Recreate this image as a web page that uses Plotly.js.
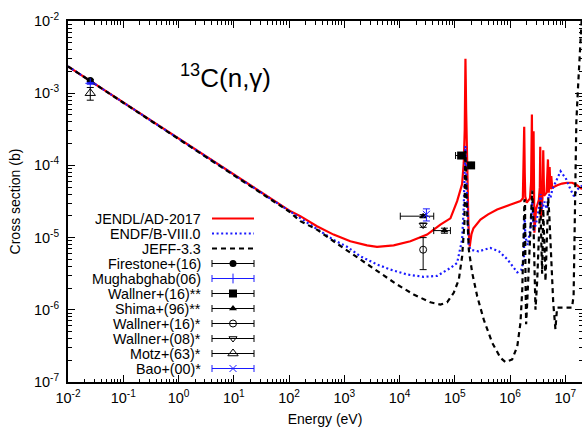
<!DOCTYPE html>
<html><head><meta charset="utf-8">
<script src="https://cdn.plot.ly/plotly-3.0.1.min.js"></script>
<style>html,body{margin:0;padding:0;background:#fff}#chart{width:582px;height:427px}</style>
</head><body><div id="chart"></div>
<script>
// ---------------- evaluated cross sections (E in eV, sigma in b) ----------------
const jendlE = [0.01, 0.1, 1, 10, 100, 160, 320, 640, 1285, 2576, 3908, 7816, 15700, 31500, 54800, 83200,
  110000, 135500, 145000, 151000, 153500, 155600, 157500, 160000, 165000, 170000, 176000, 182000, 186000, 192000,
  200000, 217000, 291000, 400000, 583000, 1000000, 1540000, 1700000, 1760000, 1800000, 1840000, 1880000, 2000000,
  2290000, 2400000, 2480000, 2530000, 2590000, 2660000, 2700000, 2750000, 2950000, 3310000, 3450000, 3510000,
  3570000, 3630000, 3850000, 3980000, 4120000, 4570000, 4840000, 5010000, 5190000, 5370000, 5560000, 5780000,
  7130000, 8700000, 1.07e7, 1.33e7, 1.58e7, 1.88e7, 2.0e7];
const jendlXS = [2.35e-3, 7.43e-4, 2.35e-4, 7.43e-5, 2.38e-5, 1.98e-5, 1.44e-5, 1.10e-5, 8.9e-6, 7.8e-6, 7.46e-6, 7.8e-6, 8.9e-6, 1.10e-5, 1.51e-5, 1.85e-5,
  3.2e-5, 5.5e-5, 1.09e-4, 3.1e-4, 1.1e-3, 3.0e-3, 1.6e-3, 6.0e-4, 1.3e-4, 4.5e-5, 1.6e-5, 9.0e-6, 7.5e-6, 9.0e-6,
  1.12e-5, 1.35e-5, 1.78e-5, 2.1e-5, 2.45e-5, 2.85e-5, 3.2e-5, 3.5e-5, 1.0e-4, 3.43e-4, 8.0e-5, 3.7e-5, 3.05e-5,
  3.5e-5, 6.0e-5, 5.07e-4, 4.5e-5, 5.0e-5, 2.98e-4, 3.0e-5, 1.17e-5, 2.5e-5, 3.3e-5, 5.0e-5, 1.81e-4,
  4.0e-5, 1.86e-5, 3.5e-5, 1.62e-4, 3.8e-5, 4.2e-5, 1.21e-4, 4.2e-5, 9.5e-5, 4.7e-5, 7.1e-5, 4.9e-5,
  5.3e-5, 5.6e-5, 5.75e-5, 5.75e-5, 5.4e-5, 4.9e-5, 4.7e-5];

const endfE = [0.01, 0.1, 1, 10, 100, 300, 640, 1120, 1950, 3900, 6800, 13700, 27400, 47800, 83200, 110000,
  135500, 145000, 151000, 155000, 158000, 166000, 178000, 192000, 269000, 437000, 631000, 891000, 1200000, 1350000,
  1580000, 1780000, 1820000, 1900000, 2090000, 2400000, 2510000, 2690000, 2950000, 3310000, 3550000, 3800000,
  4170000, 4570000, 5010000, 5370000, 5800000, 7130000, 8180000, 9120000, 1.01e7, 1.24e7, 1.43e7, 1.64e7, 1.88e7, 2.0e7];
const endfXS = [2.35e-3, 7.43e-4, 2.35e-4, 7.43e-5, 2.33e-5, 1.35e-5, 9.3e-6, 7.46e-6, 5.52e-6, 4.25e-6, 3.61e-6, 3.08e-6, 2.86e-6, 2.95e-6, 3.8e-6, 4.47e-6,
  9.4e-6, 2.7e-5, 8.0e-5, 1.85e-4, 1.2e-4, 3.2e-5, 8.0e-6, 6.8e-6, 6.45e-6, 7.2e-6, 6.45e-6, 5.0e-6, 3.7e-6, 3.3e-6,
  3.55e-6, 5.0e-6, 2.0e-5, 1.0e-5, 7.9e-6, 1.58e-5, 3.16e-5, 1.26e-5, 1.58e-5, 2.5e-5, 4.0e-5, 2.5e-5,
  3.16e-5, 2.5e-5, 4.0e-5, 3.55e-5, 4.63e-5, 6.38e-5, 8.3e-5, 7.4e-5, 6.73e-5, 4.63e-5, 3.74e-5, 4.63e-5, 5.15e-5, 5.25e-5];

const jeffE = [0.01, 0.1, 1, 10, 100, 160, 320, 640, 1285, 2576, 4490, 9000, 18000, 36100, 54800, 72400, 95500,
  118000, 135500, 149000, 155000, 158000, 166000, 179000, 206000, 254000, 334000, 474000, 670000, 826000, 1090000,
  1350000, 1540000, 1660000, 1730000, 1770000, 1820000, 1860000, 1900000, 1950000, 2040000, 2190000, 2340000,
  2450000, 2510000, 2630000, 2750000, 2880000, 3090000, 3310000, 3510000, 3630000, 3800000, 3980000, 4170000,
  4370000, 4680000, 4900000, 5130000, 5500000, 6030000, 6610000, 7080000, 1.0e7, 1.32e7, 1.41e7, 1.46e7, 1.51e7,
  1.58e7, 1.7e7, 1.82e7, 1.91e7, 2.0e7];
const jeffXS = [2.35e-3, 7.43e-4, 2.35e-4, 7.4e-5, 2.3e-5, 1.69e-5, 1.29e-5, 8.9e-6, 6.15e-6, 4.25e-6, 3.2e-6, 2.24e-6, 1.63e-6, 1.27e-6, 1.18e-6, 1.27e-6, 1.72e-6,
  2.62e-6, 5.5e-6, 1.6e-5, 1.6e-4, 9.0e-5, 2.5e-5, 6.8e-6, 3.26e-6, 1.54e-6, 7.3e-7, 3.5e-7, 2.16e-7, 1.88e-7, 2.05e-7,
  3.13e-7, 6.6e-7, 1.91e-6, 5.5e-6, 1.6e-5, 3.4e-5, 3.2e-5, 2.5e-6, 6.3e-7, 1.26e-6, 4.0e-6, 1.26e-5,
  3.16e-5, 4.5e-5, 2.0e-5, 4.0e-6, 1.0e-6, 2.5e-6, 1.0e-5, 3.16e-5, 1.26e-5, 3.16e-6, 2.5e-5, 7.9e-6,
  2.5e-6, 1.26e-5, 3.55e-5, 2.0e-5, 5.0e-6, 1.26e-6, 5.4e-7, 1.07e-6, 1.07e-6, 1.07e-6, 1.58e-6, 1.0e-5, 1.0e-4,
  4.0e-4, 1.26e-3, 4.0e-3, 7.9e-3, 1.26e-2];

// ---------------- measurements ----------------
const firestoneE = [0.0253], firestoneXS = [1.5e-3], firestoneErr = [0.05e-3];
const mughabghabE = [0.0253], mughabghabXS = [1.37e-3], mughabghabErr = [0.04e-3];
const wallner16aE = [1.30e5, 1.97e5], wallner16aXS = [1.37e-4, 1.0e-4], wallner16aEerr = [0.27e5, 0];
const shimaE = [2.67e4, 6.49e4], shimaXS = [1.98e-5, 1.25e-5], shimaEplus = [1.48e4, 1.83e4], shimaEminus = [1.64e4, 2.34e4], shimaErr = [0.1e-5, 0.1e-5];
const wallner16bE = [2.67e4], wallner16bXS = [6.8e-6], wallner16bErr = [3.2e-6];
const wallner08E = [2.67e4], wallner08XS = [1.49e-5], wallner08Err = [0.1e-5];
const motzE = [0.0253], motzXS = [1.0e-3], motzErr = [0.2e-3];
const baoE = [3.06e4], baoXS = [2.1e-5], baoErr = [0.4e-5];

// ---------------- axis ticks ----------------
const xTickVals = [1e-2, 1e-1, 1, 10, 100, 1e3, 1e4, 1e5, 1e6, 1e7];
const xTickText = ['10<sup>-2</sup>','10<sup>-1</sup>','10<sup>0</sup>','10<sup>1</sup>','10<sup>2</sup>','10<sup>3</sup>','10<sup>4</sup>','10<sup>5</sup>','10<sup>6</sup>','10<sup>7</sup>'];
const yTickVals = [1e-7, 1e-6, 1e-5, 1e-4, 1e-3, 1e-2];
const yTickText = ['10<sup>-7</sup>','10<sup>-6</sup>','10<sup>-5</sup>','10<sup>-4</sup>','10<sup>-3</sup>','10<sup>-2</sup>'];

const legendNames = ['JENDL/AD-2017','ENDF/B-VIII.0','JEFF-3.3','Firestone+(16)','Mughabghab(06)','Wallner+(16)**','Shima+(96)**','Wallner+(16)*','Wallner+(08)*','Motz+(63)*','Bao+(00)*'];

function minorVals(d0, d1) {
  const v = [];
  for (let d = d0; d <= d1; d++) for (let m = 2; m <= 9; m++) v.push(m * Math.pow(10, d));
  return v;
}

const BLUE = '#1a1aff';
const FONT = 'Liberation Sans, Arial, Helvetica, sans-serif';
const lineRed = {color: '#ff0000', width: 2.2};
const lineBlue = {color: BLUE, width: 2.2, dash: '2px,2.6px'};
const lineBlack = {color: '#000', width: 2.2, dash: '5px,4px'};

const errW = 3.5;
function ey(arr, color) { return {type: 'data', array: arr, visible: true, color: color, thickness: 1, width: errW}; }

const traces = [
  {x: jendlE, y: jendlXS, mode: 'lines', line: lineRed},
  {x: endfE, y: endfXS, mode: 'lines', line: lineBlue},
  {x: jeffE, y: jeffXS, mode: 'lines', line: lineBlack},
  {x: firestoneE, y: firestoneXS, mode: 'markers', marker: {symbol: 'circle', size: 7, color: '#000'}, error_y: ey(firestoneErr, '#000')},
  {x: mughabghabE, y: mughabghabXS, mode: 'markers', marker: {symbol: 'cross-thin-open', size: 7, color: BLUE, line: {color: BLUE, width: 1}}, error_y: ey(mughabghabErr, BLUE)},
  {x: wallner16aE, y: wallner16aXS, mode: 'markers', marker: {symbol: 'square', size: 8, color: '#000'}, error_x: ey(wallner16aEerr, '#000')},
  {x: shimaE, y: shimaXS, mode: 'markers', marker: {symbol: 'triangle-up', size: 7, color: '#000'},
    error_x: {type: 'data', symmetric: false, array: shimaEplus, arrayminus: shimaEminus, color: '#000', thickness: 1, width: errW},
    error_y: ey(shimaErr, '#000')},
  {x: wallner16bE, y: wallner16bXS, mode: 'markers', marker: {symbol: 'circle-open', size: 7, color: '#000', line: {width: 1}}, error_y: ey(wallner16bErr, '#000')},
  {x: wallner08E, y: wallner08XS, mode: 'markers', marker: {symbol: 'triangle-down-open', size: 7, color: '#000', line: {width: 1}}, error_y: ey(wallner08Err, '#000')},
  {x: motzE, y: motzXS, mode: 'markers', marker: {symbol: 'triangle-up-open', size: 9, color: '#000', line: {width: 1}}, error_y: ey(motzErr, '#000')},
  {x: baoE, y: baoXS, mode: 'markers', marker: {symbol: 'x-thin-open', size: 7, color: BLUE, line: {color: BLUE, width: 1}}, error_y: ey(baoErr, BLUE)}
];
traces.forEach(t => { t.showlegend = false; t.hoverinfo = 'skip'; });

// ---------------- hand-made legend (gnuplot style: text left, sample right) ----------------
const LX0 = 212, LX1 = 254, LXC = 233, LROW0 = 218.5, LSTEP = 15, LTEXT = 203;
const annotations = [];
legendNames.forEach((name, i) => {
  const yy = LROW0 + i * LSTEP;
  annotations.push({xref: 'x2', yref: 'y2', x: LTEXT, y: yy, text: name, showarrow: false,
    xanchor: 'right', yanchor: 'middle', font: {family: FONT, size: 14.3, color: '#000'}});
  const src = traces[i];
  if (i < 3) {
    traces.push({x: [LX0, LX1], y: [yy, yy], xaxis: 'x2', yaxis: 'y2', mode: 'lines', line: src.line, showlegend: false, hoverinfo: 'skip'});
  } else {
    const col = (src.marker.line && src.marker.line.color) ? src.marker.line.color : (src.marker.color || '#000');
    traces.push({x: [LXC], y: [yy], xaxis: 'x2', yaxis: 'y2', mode: 'markers', marker: src.marker,
      error_x: {type: 'constant', value: (LX1 - LX0) / 2, color: col, thickness: 1, width: errW},
      showlegend: false, hoverinfo: 'skip'});
  }
});
annotations.push({xref: 'x2', yref: 'y2', x: 178, y: 76, text: '<sup>13</sup>C(n,γ)', showarrow: false,
  xanchor: 'left', yanchor: 'middle', font: {family: FONT, size: 26, color: '#000'}});

const axisCommon = {
  type: 'log', showline: true, linecolor: '#000', linewidth: 2, mirror: 'ticks',
  ticks: 'inside', ticklen: 7, tickwidth: 1, tickcolor: '#000', showgrid: false, zeroline: false,
  tickmode: 'array', tickfont: {family: FONT, size: 14.5, color: '#000'}
};

const layout = {
  width: 582, height: 427,
  margin: {l: 68, r: 0, t: 21, b: 45},
  paper_bgcolor: '#fff', plot_bgcolor: '#fff',
  font: {family: FONT, color: '#000'},
  showlegend: false,
  xaxis: Object.assign({}, axisCommon, {
    range: [-2, Math.log10(2e7)], tickvals: xTickVals, ticktext: xTickText, ticklabelstandoff: 2,
    minor: {tickmode: 'array', tickvals: minorVals(-2, 7), ticks: 'inside', ticklen: 3.5, tickwidth: 1, tickcolor: '#000', showgrid: false},
    title: {text: 'Energy (eV)', font: {family: FONT, size: 14, color: '#000'}, standoff: 15}
  }),
  yaxis: Object.assign({}, axisCommon, {
    range: [-7, -2], tickvals: yTickVals, ticktext: yTickText, ticklabelstandoff: 4,
    minor: {tickmode: 'array', tickvals: minorVals(-7, -3), ticks: 'inside', ticklen: 3.5, tickwidth: 1, tickcolor: '#000', showgrid: false},
    title: {text: 'Cross section (b)', font: {family: FONT, size: 14, color: '#000'}, standoff: 10}
  }),
  xaxis2: {overlaying: 'x', anchor: 'y2', range: [68, 582], visible: false, fixedrange: true},
  yaxis2: {overlaying: 'y', anchor: 'x2', range: [382, 21], visible: false, fixedrange: true},
  annotations: annotations
};

Plotly.newPlot('chart', traces, layout, {displayModeBar: false, staticPlot: true});
</script>
</body></html>
